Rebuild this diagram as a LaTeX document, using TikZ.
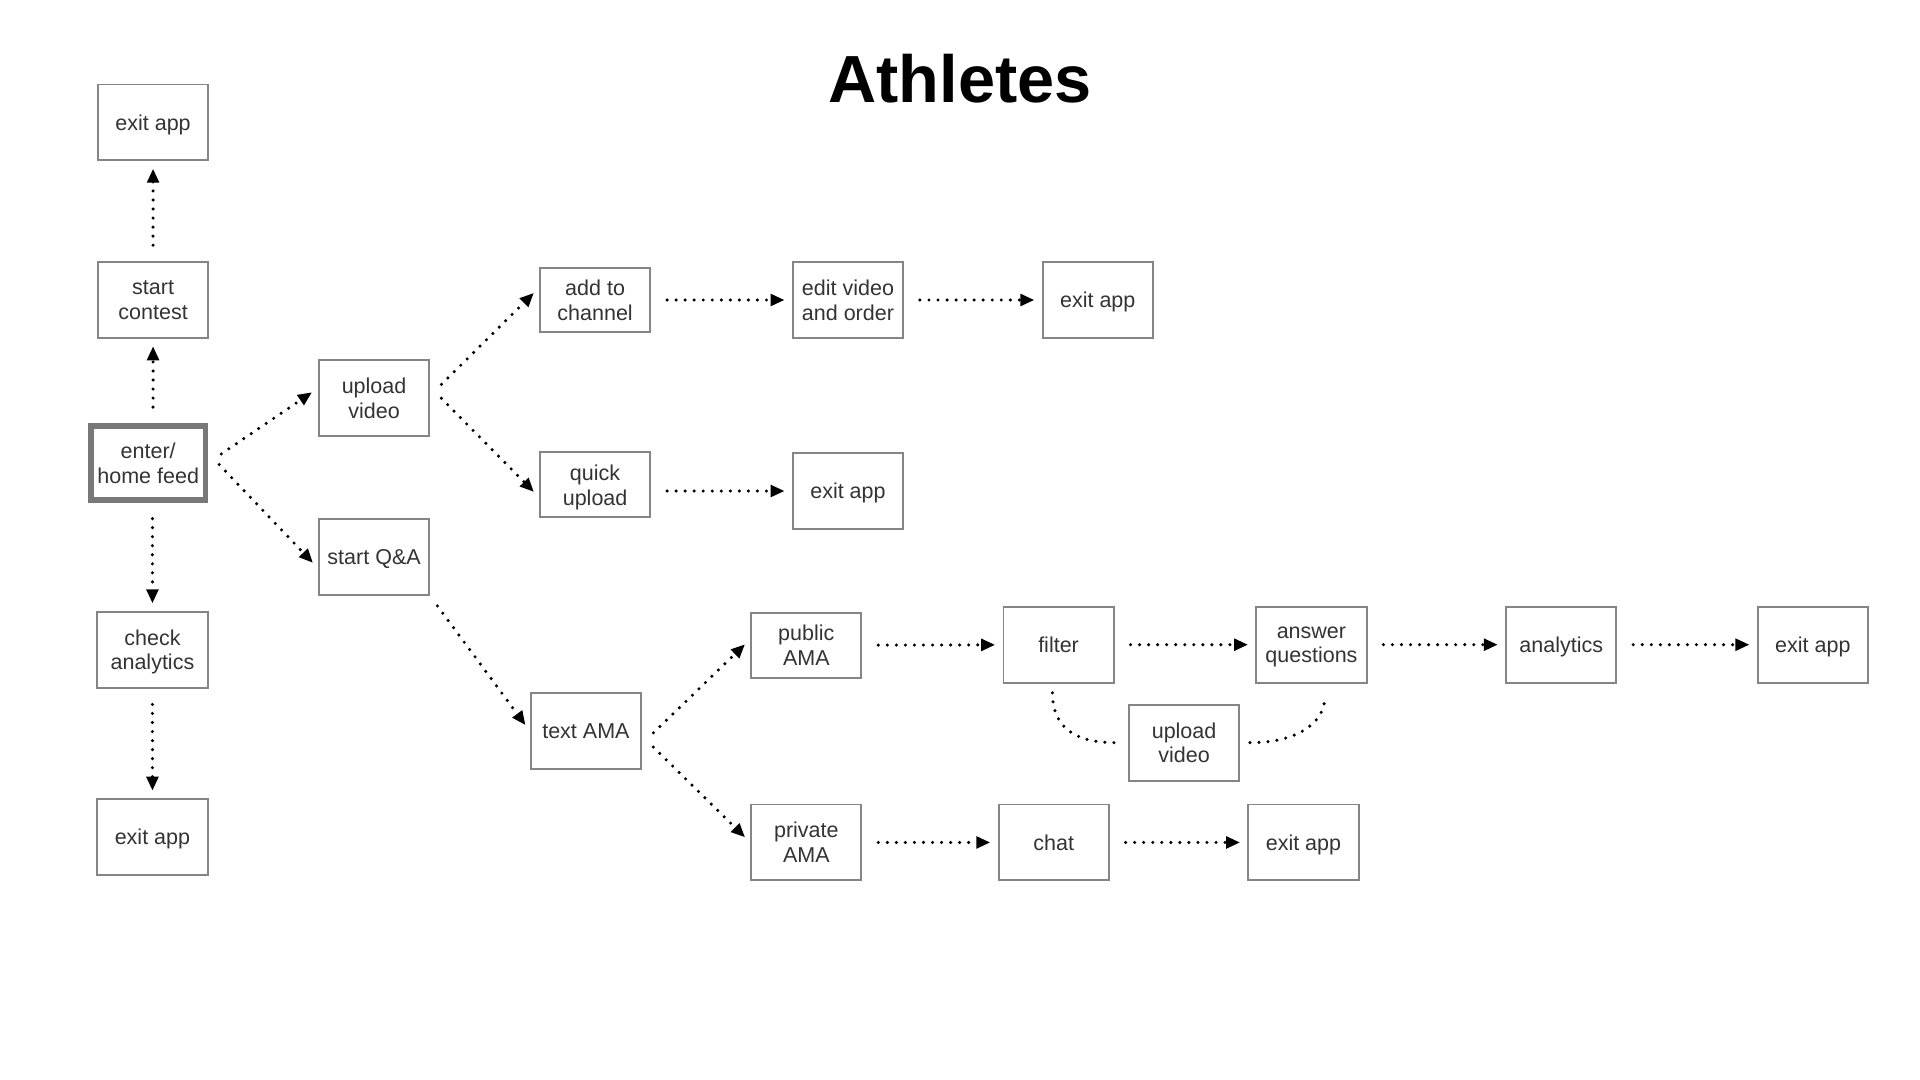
\documentclass[tikz,border=0pt]{standalone}
\usepackage{fontspec}
\setmainfont{Liberation Sans}
\usetikzlibrary{arrows.meta}
\definecolor{boxgray}{HTML}{858585}
\definecolor{inkgray}{HTML}{333333}
\tikzset{
  box/.style={draw=boxgray,line width=0.9pt,minimum width=1.8cm,minimum height=1.24cm,
    inner sep=0pt,text depth=0pt,align=center,text=inkgray,font=\fontsize{10}{11.5}\selectfont},
  flatbox/.style={box,minimum height=1.06cm},
  homebox/.style={box,draw=boxgray!90!black,line width=2.6pt,minimum width=1.87cm,minimum height=1.21cm},
  flow/.style={line width=1.6pt,line cap=round,dash pattern=on 0pt off 4.2pt,
    -{Triangle[length=6.5pt,width=5.4pt]},shorten <=0.26cm,shorten >=0.12cm},
  loopline/.style={line width=1.6pt,line cap=round,dash pattern=on 0pt off 4.2pt}
}
\begin{document}
\begin{tikzpicture}[x=0.02cm,y=-0.02cm]
    \useasboundingbox (0,0) rectangle (1568,882);
    %% title
    \node[font=\fontsize{31}{36}\selectfont\bfseries] (T) at (784,64) {Athletes};
    %% left column
    \node[box] (X1) at (125,100) {exit app};
    \node[box] (C) at (125,245) {start\\contest};
    \node[homebox] (E) at (121,378) {enter/\\home feed};
    \node[box] (K) at (124.5,530.5) {check\\analytics};
    \node[box] (X2) at (124.5,683.5) {exit app};
    \draw[flow] (C) -- (X1);
    \draw[flow] (E.north -| C) -- (C);
    \draw[flow] (E.south -| K) -- (K);
    \draw[flow] (K) -- (X2);
    %% upload branch
    \node[box] (U) at (305.5,325) {upload\\video};
    \node[flatbox] (A) at (486,245) {add to\\channel};
    \node[box] (D) at (692.5,245) {edit video\\and order};
    \node[box] (X3) at (896.5,245) {exit app};
    \node[flatbox] (P) at (486,396) {quick\\upload};
    \node[box] (X4) at (692.5,401) {exit app};
    \draw[flow] (E.east) -- ([yshift=0.16cm]U.west);
    \draw[flow] ([yshift=0.04cm]U.east) -- ([yshift=0.2cm]A.west);
    \draw[flow] ([yshift=0.18cm]U.east) -- ([yshift=-0.2cm]P.west);
    \draw[flow] (A) -- (D);
    \draw[flow] (D) -- (X3);
    \draw[flow] (P.east |- X4) -- (X4);
    %% Q&A branch
    \node[box] (Q) at (305.5,455) {start Q\&A};
    \node[box] (M) at (478.5,597) {text AMA};
    \node[flatbox] (PA) at (658.5,527) {public\\AMA};
    \node[box] (F) at (864.5,526.5) {filter};
    \node[box] (AQ) at (1071,526.5) {answer\\questions};
    \node[box] (AN) at (1275,526.5) {analytics};
    \node[box] (X5) at (1480.5,526.5) {exit app};
    \node[box] (V) at (967,606.5) {upload\\video};
    \node[box] (R) at (658.5,688) {private\\AMA};
    \node[box] (CH) at (860.5,688) {chat};
    \node[box] (X6) at (1064.5,688) {exit app};
    \draw[flow] ([yshift=0.16cm]E.east) -- ([yshift=-0.18cm]Q.west);
    \draw[flow,shorten <=0.2cm] (Q.south east) -- (M.west);
    \draw[flow] ([yshift=-0.21cm]M.east) -- ([yshift=0.1cm]PA.west);
    \draw[flow] ([yshift=-0.08cm]M.east) -- (R.west);
    \draw[flow] (PA) -- (F);
    \draw[flow] (F) -- (AQ);
    \draw[flow] (AQ) -- (AN);
    \draw[flow] (AN) -- (X5);
    \draw[flow] (R) -- (CH);
    \draw[flow] (CH) -- (X6);
    %% side trip round upload video
    \draw[loopline] ([shift={(-0.1cm,-0.15cm)}]F.south) .. controls +(0,-0.6cm) and +(-0.6cm,0) .. ([xshift=-0.22cm]V.west);
    \draw[loopline] ([xshift=0.16cm]V.east) .. controls +(0.8cm,0) and +(0,-0.4cm) .. ([shift={(0.22cm,-0.22cm)}]AQ.south);
\end{tikzpicture}
\end{document}
